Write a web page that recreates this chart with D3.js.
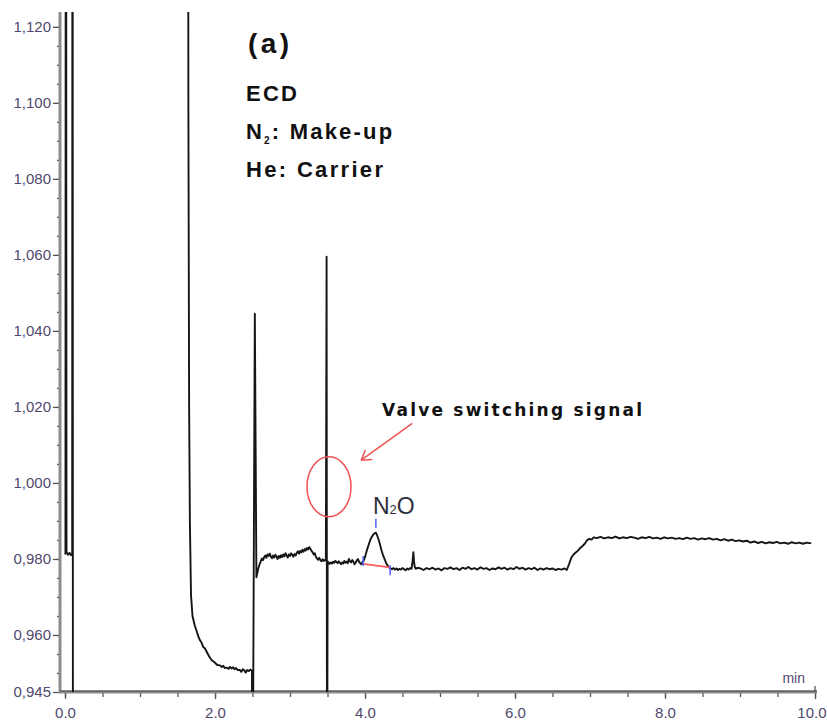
<!DOCTYPE html>
<html>
<head>
<meta charset="utf-8">
<script src="https://cdn.jsdelivr.net/npm/d3@7"></script>
<style>
  html, body { margin: 0; padding: 0; background: #fff; }
  svg { display: block; font-family: "Liberation Sans", Arial, sans-serif; }
</style>
</head>
<body>
<svg id="chart" width="827" height="721"></svg>
<script>
// ECD chromatogram, signal vs retention time (min)

// --- axis ticks ---
const xMajorTicks = [0, 2, 4, 6, 8, 10];
const xMinorTicks = d3.range(0, 10.001, 0.5);
const yMajorTicks = [0.945, 0.960, 0.980, 1.000, 1.020, 1.040, 1.060, 1.080, 1.100, 1.120];
const yMinorTicks = d3.range(0.950, 1.1201, 0.005);

// --- trace, [time (min), signal] ---
// injection disturbance; detector then goes over range
const injection = [
  [0.000, 0.9812], [0.006, 0.9815], [0.012, 1.3000], [0.020, 0.9818], [0.040, 0.9811],
  [0.060, 0.9816], [0.080, 0.9810], [0.096, 0.9813], [0.100, 1.3000], [0.106, 0.9000]
];

// tail of the large early peak
const solventTail = [
  [1.636, 1.3000], [1.645, 1.1000], [1.655, 1.0200], [1.665, 0.9900], [1.680, 0.9705],
  [1.700, 0.9650], [1.730, 0.9625], [1.756, 0.9610], [1.780, 0.9595], [1.800, 0.9586],
  [1.820, 0.9580], [1.844, 0.9568], [1.865, 0.9565], [1.889, 0.9556], [1.910, 0.9548],
  [1.933, 0.9540], [1.960, 0.9533], [1.980, 0.9530], [2.000, 0.9527], [2.030, 0.9521],
  [2.067, 0.9520], [2.090, 0.9516], [2.110, 0.9519], [2.130, 0.9513], [2.156, 0.9514],
  [2.180, 0.9511], [2.200, 0.9516], [2.220, 0.9512], [2.240, 0.9515], [2.260, 0.9510],
  [2.280, 0.9513], [2.300, 0.9508], [2.333, 0.9508], [2.350, 0.9503], [2.370, 0.9510],
  [2.390, 0.9507], [2.410, 0.9501], [2.430, 0.9508], [2.450, 0.9505], [2.470, 0.9509],
  [2.493, 0.9506]
];

// first valve switch
const switchSpikeA = [[2.500, 0.9000], [2.531, 1.0445], [2.552, 0.9752]];

const betweenSwitches = [
  [2.565, 0.9764], [2.580, 0.9777], [2.595, 0.9786], [2.610, 0.9794], [2.625, 0.9801],
  [2.640, 0.9797], [2.655, 0.9805], [2.670, 0.9809], [2.685, 0.9803], [2.700, 0.9812],
  [2.715, 0.9808], [2.730, 0.9814], [2.745, 0.9806], [2.760, 0.9802], [2.775, 0.9809],
  [2.790, 0.9804], [2.805, 0.9811], [2.820, 0.9806], [2.835, 0.9800], [2.850, 0.9808],
  [2.865, 0.9803], [2.880, 0.9810], [2.895, 0.9805], [2.910, 0.9812], [2.925, 0.9807],
  [2.940, 0.9815], [2.955, 0.9809], [2.970, 0.9804], [2.985, 0.9812], [3.000, 0.9808],
  [3.015, 0.9815], [3.030, 0.9811], [3.045, 0.9806], [3.060, 0.9813], [3.075, 0.9809],
  [3.090, 0.9816], [3.105, 0.9820], [3.120, 0.9814], [3.135, 0.9821], [3.150, 0.9817],
  [3.165, 0.9824], [3.180, 0.9819], [3.195, 0.9826], [3.210, 0.9822], [3.225, 0.9829],
  [3.240, 0.9825], [3.255, 0.9831], [3.270, 0.9827], [3.285, 0.9822], [3.300, 0.9818],
  [3.315, 0.9812], [3.330, 0.9815], [3.345, 0.9806], [3.360, 0.9801], [3.375, 0.9798],
  [3.390, 0.9803], [3.405, 0.9797], [3.420, 0.9794], [3.435, 0.9799], [3.450, 0.9795],
  [3.465, 0.9797], [3.478, 0.9796]
];

// second valve switch
const switchSpikeB = [[3.488, 1.0595], [3.494, 0.9000], [3.502, 0.9794]];

const n2oWindow = [
  [3.515, 0.9790], [3.530, 0.9787], [3.545, 0.9791], [3.560, 0.9788], [3.575, 0.9793],
  [3.590, 0.9790], [3.605, 0.9795], [3.620, 0.9792], [3.635, 0.9789], [3.650, 0.9794],
  [3.665, 0.9790], [3.680, 0.9786], [3.695, 0.9791], [3.710, 0.9788], [3.725, 0.9795],
  [3.740, 0.9790], [3.755, 0.9793], [3.770, 0.9789], [3.785, 0.9800], [3.800, 0.9794],
  [3.815, 0.9791], [3.830, 0.9797], [3.845, 0.9793], [3.860, 0.9786], [3.875, 0.9790],
  [3.890, 0.9796], [3.905, 0.9800], [3.920, 0.9793], [3.935, 0.9789], [3.950, 0.9786],
  [3.965, 0.9791], [3.980, 0.9795], [3.995, 0.9802], [4.010, 0.9812], [4.030, 0.9826],
  [4.050, 0.9838], [4.070, 0.9850], [4.090, 0.9858], [4.110, 0.9864], [4.130, 0.9868],
  [4.145, 0.9869], [4.160, 0.9863], [4.180, 0.9852], [4.200, 0.9838], [4.220, 0.9823],
  [4.240, 0.9810], [4.260, 0.9800], [4.280, 0.9790], [4.300, 0.9783], [4.320, 0.9778],
  [4.340, 0.9775], [4.360, 0.9773], [4.380, 0.9776], [4.400, 0.9772], [4.420, 0.9775],
  [4.440, 0.9771], [4.460, 0.9774], [4.480, 0.9772], [4.500, 0.9776], [4.520, 0.9773],
  [4.540, 0.9770], [4.560, 0.9775], [4.580, 0.9772], [4.600, 0.9776], [4.620, 0.9774],
  [4.635, 0.9795], [4.645, 0.9818], [4.655, 0.9790], [4.665, 0.9778], [4.680, 0.9774],
  [4.700, 0.9777]
];

const baselineLate = [
  [4.74, 0.9775], [4.78, 0.9771], [4.82, 0.9776], [4.86, 0.9773], [4.90, 0.9777],
  [4.94, 0.9772], [4.98, 0.9775], [5.02, 0.9770], [5.06, 0.9776], [5.10, 0.9774],
  [5.14, 0.9778], [5.18, 0.9773], [5.22, 0.9776], [5.26, 0.9771], [5.30, 0.9777],
  [5.34, 0.9774], [5.38, 0.9779], [5.42, 0.9773], [5.46, 0.9776], [5.50, 0.9772],
  [5.54, 0.9778], [5.58, 0.9774], [5.62, 0.9776], [5.66, 0.9771], [5.70, 0.9775],
  [5.74, 0.9773], [5.78, 0.9778], [5.82, 0.9774], [5.86, 0.9777], [5.90, 0.9772],
  [5.94, 0.9776], [5.98, 0.9773], [6.02, 0.9779], [6.06, 0.9774], [6.10, 0.9777],
  [6.14, 0.9772], [6.18, 0.9776], [6.22, 0.9773], [6.26, 0.9777], [6.30, 0.9771],
  [6.34, 0.9775], [6.38, 0.9772], [6.42, 0.9776], [6.46, 0.9773], [6.50, 0.9775],
  [6.54, 0.9771], [6.58, 0.9774], [6.62, 0.9772], [6.66, 0.9775], [6.69, 0.9771]
];

// baseline step after the backflush switch
const plateau = [
  [6.72, 0.9786], [6.75, 0.9803], [6.78, 0.9812], [6.81, 0.9817], [6.84, 0.9822],
  [6.87, 0.9829], [6.90, 0.9834], [6.93, 0.9840], [6.96, 0.9849], [6.99, 0.9853],
  [7.02, 0.9851], [7.05, 0.9857], [7.09, 0.9855], [7.14, 0.9858], [7.19, 0.9854],
  [7.24, 0.9857], [7.29, 0.9855], [7.34, 0.9859], [7.39, 0.9854], [7.44, 0.9857],
  [7.49, 0.9855], [7.54, 0.9858], [7.59, 0.9856], [7.64, 0.9853], [7.69, 0.9857],
  [7.74, 0.9855], [7.79, 0.9858], [7.84, 0.9854], [7.89, 0.9856], [7.94, 0.9853],
  [7.99, 0.9857], [8.04, 0.9854], [8.09, 0.9856], [8.14, 0.9853], [8.19, 0.9855],
  [8.24, 0.9852], [8.29, 0.9856], [8.34, 0.9853], [8.39, 0.9855], [8.44, 0.9851],
  [8.49, 0.9854], [8.54, 0.9852], [8.59, 0.9855], [8.64, 0.9851], [8.69, 0.9853],
  [8.74, 0.9849], [8.79, 0.9852], [8.84, 0.9848], [8.89, 0.9851], [8.94, 0.9847],
  [8.99, 0.9849], [9.04, 0.9846], [9.09, 0.9848], [9.14, 0.9843], [9.19, 0.9846],
  [9.24, 0.9842], [9.29, 0.9845], [9.34, 0.9841], [9.39, 0.9844], [9.44, 0.9842],
  [9.49, 0.9845], [9.54, 0.9841], [9.59, 0.9843], [9.64, 0.9840], [9.69, 0.9844],
  [9.74, 0.9841], [9.79, 0.9843], [9.84, 0.9840], [9.89, 0.9843], [9.95, 0.9841]
];

// N2O peak integration events
const n2oStart = [3.975, 0.9787];
const n2oApex = [4.145, 0.9869];
const n2oEnd = [4.335, 0.9778];

// valve switching annotation: ellipse centre, arrow tail and head
const valveMark = [3.52, 0.999];
const arrowFrom = [4.63, 1.0157];
const arrowTo = [3.95, 1.0060];

// --- layout ---
const svg = d3.select("#chart");
const x = d3.scaleLinear().domain([0, 10]).range([65, 815]);
const y = d3.scaleLinear().domain([0.945, 1.1239]).range([692, 12]);
const axisX = 60;               // left frame position
const [yBottom, yTop] = y.range();

const labelColor = "#4f4a6e";

// clip for the trace
svg.append("defs").append("clipPath").attr("id", "plotClip")
  .append("rect").attr("x", axisX).attr("y", yTop)
  .attr("width", x(10) + 3 - axisX).attr("height", yBottom - yTop);

// --- y axis ---
const yMinorAxis = d3.axisLeft(y).tickValues(yMinorTicks).tickSize(3).tickFormat("");
const yAxis = d3.axisLeft(y).tickValues(yMajorTicks).tickSize(7).tickPadding(2)
  .tickFormat(d => d3.format(".3f")(d).replace(".", ","));

const gyMinor = svg.append("g").attr("transform", `translate(${axisX},0)`).call(yMinorAxis);
const gy = svg.append("g").attr("transform", `translate(${axisX},0)`).call(yAxis);
[gyMinor, gy].forEach(g => {
  g.select(".domain").remove();
  g.selectAll(".tick line").attr("stroke", "#555").attr("stroke-width", 1.3);
});
gy.selectAll(".tick text").attr("fill", labelColor)
  .style("font-size", "15px").style("font-family", "'Liberation Sans', Arial, sans-serif");

// --- x axis ---
const xMinorAxis = d3.axisBottom(x).tickValues(xMinorTicks).tickSize(5).tickFormat("");
const xAxis = d3.axisBottom(x).tickValues(xMajorTicks).tickSize(7).tickPadding(8)
  .tickFormat(d3.format(".1f"));
const gxMinor = svg.append("g").attr("transform", `translate(0,${yBottom})`).call(xMinorAxis);
const gx = svg.append("g").attr("transform", `translate(0,${yBottom})`).call(xAxis);
[gxMinor, gx].forEach(g => {
  g.select(".domain").remove();
  g.selectAll(".tick line").attr("stroke", "#555").attr("stroke-width", 1.3);
});
gx.selectAll(".tick text").attr("fill", labelColor)
  .style("font-size", "15px").style("font-family", "'Liberation Sans', Arial, sans-serif");
// keep the last label inside the page
gx.selectAll(".tick text").filter(d => d === 10)
  .attr("text-anchor", "end").attr("dx", 11);

// frame lines
svg.append("line")
  .attr("x1", axisX).attr("x2", axisX).attr("y1", yTop).attr("y2", yBottom + 1)
  .attr("stroke", "#8c8c8c").attr("stroke-width", 3);
svg.append("line")
  .attr("x1", axisX - 1).attr("x2", x(10) + 2).attr("y1", yBottom).attr("y2", yBottom)
  .attr("stroke", "#8c8c8c").attr("stroke-width", 3);
svg.append("line")
  .attr("x1", axisX).attr("x2", x(10) + 2).attr("y1", yBottom - 1).attr("y2", yBottom - 1)
  .attr("stroke", "#444").attr("stroke-width", 1);
svg.append("line")
  .attr("x1", x(10)).attr("x2", x(10)).attr("y1", yBottom).attr("y2", yBottom - 6)
  .attr("stroke", "#555").attr("stroke-width", 1.3);

// unit label
svg.append("text")
  .attr("x", x(10) - 10).attr("y", yBottom - 9)
  .attr("text-anchor", "end")
  .attr("fill", labelColor)
  .style("font-size", "14px")
  .text("min");

// --- trace ---
const line = d3.line().x(d => x(d[0])).y(d => y(d[1]));
const runs = [
  injection,
  [...solventTail, ...switchSpikeA, ...betweenSwitches, ...switchSpikeB,
   ...n2oWindow, ...baselineLate, ...plateau]
];
svg.append("g").attr("clip-path", "url(#plotClip)")
  .selectAll("path").data(runs).join("path")
  .attr("d", line)
  .attr("fill", "none")
  .attr("stroke", "#151515")
  .attr("stroke-width", 1.9)
  .attr("stroke-linejoin", "round");

// --- N2O integration marks ---
svg.append("line")
  .attr("x1", x(n2oStart[0])).attr("y1", y(n2oStart[1]))
  .attr("x2", x(n2oEnd[0])).attr("y2", y(n2oEnd[1]))
  .attr("stroke", "#ff5a5a").attr("stroke-width", 1.8);
const blue = "#4f5dff";
[[n2oStart, -8, 2], [n2oEnd, -2, 8], [n2oApex, -14, -5]].forEach(([p, a, b]) => {
  svg.append("line")
    .attr("x1", x(p[0])).attr("x2", x(p[0]))
    .attr("y1", y(p[1]) + a).attr("y2", y(p[1]) + b)
    .attr("stroke", blue).attr("stroke-width", 1.5);
});

const n2oLabel = svg.append("text")
  .attr("x", x(n2oApex[0]) - 3).attr("y", y(n2oApex[1]) - 19)
  .attr("fill", "#2e3040")
  .style("font-size", "23px");
n2oLabel.append("tspan").text("N");
n2oLabel.append("tspan").style("font-size", "13px").text("2");
n2oLabel.append("tspan").text("O");

// --- valve switching annotation ---
const red = "#ef5353";
svg.append("ellipse")
  .attr("cx", x(valveMark[0])).attr("cy", y(valveMark[1]))
  .attr("rx", 22).attr("ry", 30)
  .attr("fill", "none").attr("stroke", red).attr("stroke-width", 1.5);

const ax1 = x(arrowFrom[0]), ay1 = y(arrowFrom[1]);
const ax2 = x(arrowTo[0]), ay2 = y(arrowTo[1]);
svg.append("line")
  .attr("x1", ax1).attr("y1", ay1).attr("x2", ax2).attr("y2", ay2)
  .attr("stroke", red).attr("stroke-width", 1.5);
const ang = Math.atan2(ay2 - ay1, ax2 - ax1);
[Math.PI * 0.82, -Math.PI * 0.82].forEach(da => {
  svg.append("line")
    .attr("x1", ax2).attr("y1", ay2)
    .attr("x2", ax2 + 11 * Math.cos(ang + da))
    .attr("y2", ay2 + 11 * Math.sin(ang + da))
    .attr("stroke", red).attr("stroke-width", 1.5);
});

svg.append("text")
  .attr("x", 382).attr("y", 416)
  .attr("fill", "#111")
  .attr("textLength", 260).attr("lengthAdjust", "spacing")
  .style("font-family", "'DejaVu Sans', sans-serif")
  .style("font-weight", "bold")
  .style("font-size", "17px")
  .text("Valve switching signal");

// --- panel title and detector conditions ---
const info = svg.append("g")
  .attr("fill", "#111")
  .style("font-weight", "bold")
  .style("font-family", "'Liberation Sans', Arial, sans-serif");

info.append("text")
  .attr("x", 248).attr("y", 53)
  .attr("textLength", 41).attr("lengthAdjust", "spacing")
  .style("font-size", "28px")
  .text("(a)");

info.append("text")
  .attr("x", 246).attr("y", 101)
  .attr("textLength", 51).attr("lengthAdjust", "spacing")
  .style("font-size", "22px")
  .text("ECD");

const makeUp = info.append("text")
  .attr("x", 246).attr("y", 139)
  .style("font-size", "22px")
  .style("letter-spacing", "2.2px");
makeUp.append("tspan").text("N");
makeUp.append("tspan").attr("dy", 5).style("font-size", "10px").text("2");
makeUp.append("tspan").attr("dy", -5).text(": Make-up");

info.append("text")
  .attr("x", 246).attr("y", 177)
  .attr("textLength", 137).attr("lengthAdjust", "spacing")
  .style("font-size", "22px")
  .text("He: Carrier");
</script>
</body>
</html>
